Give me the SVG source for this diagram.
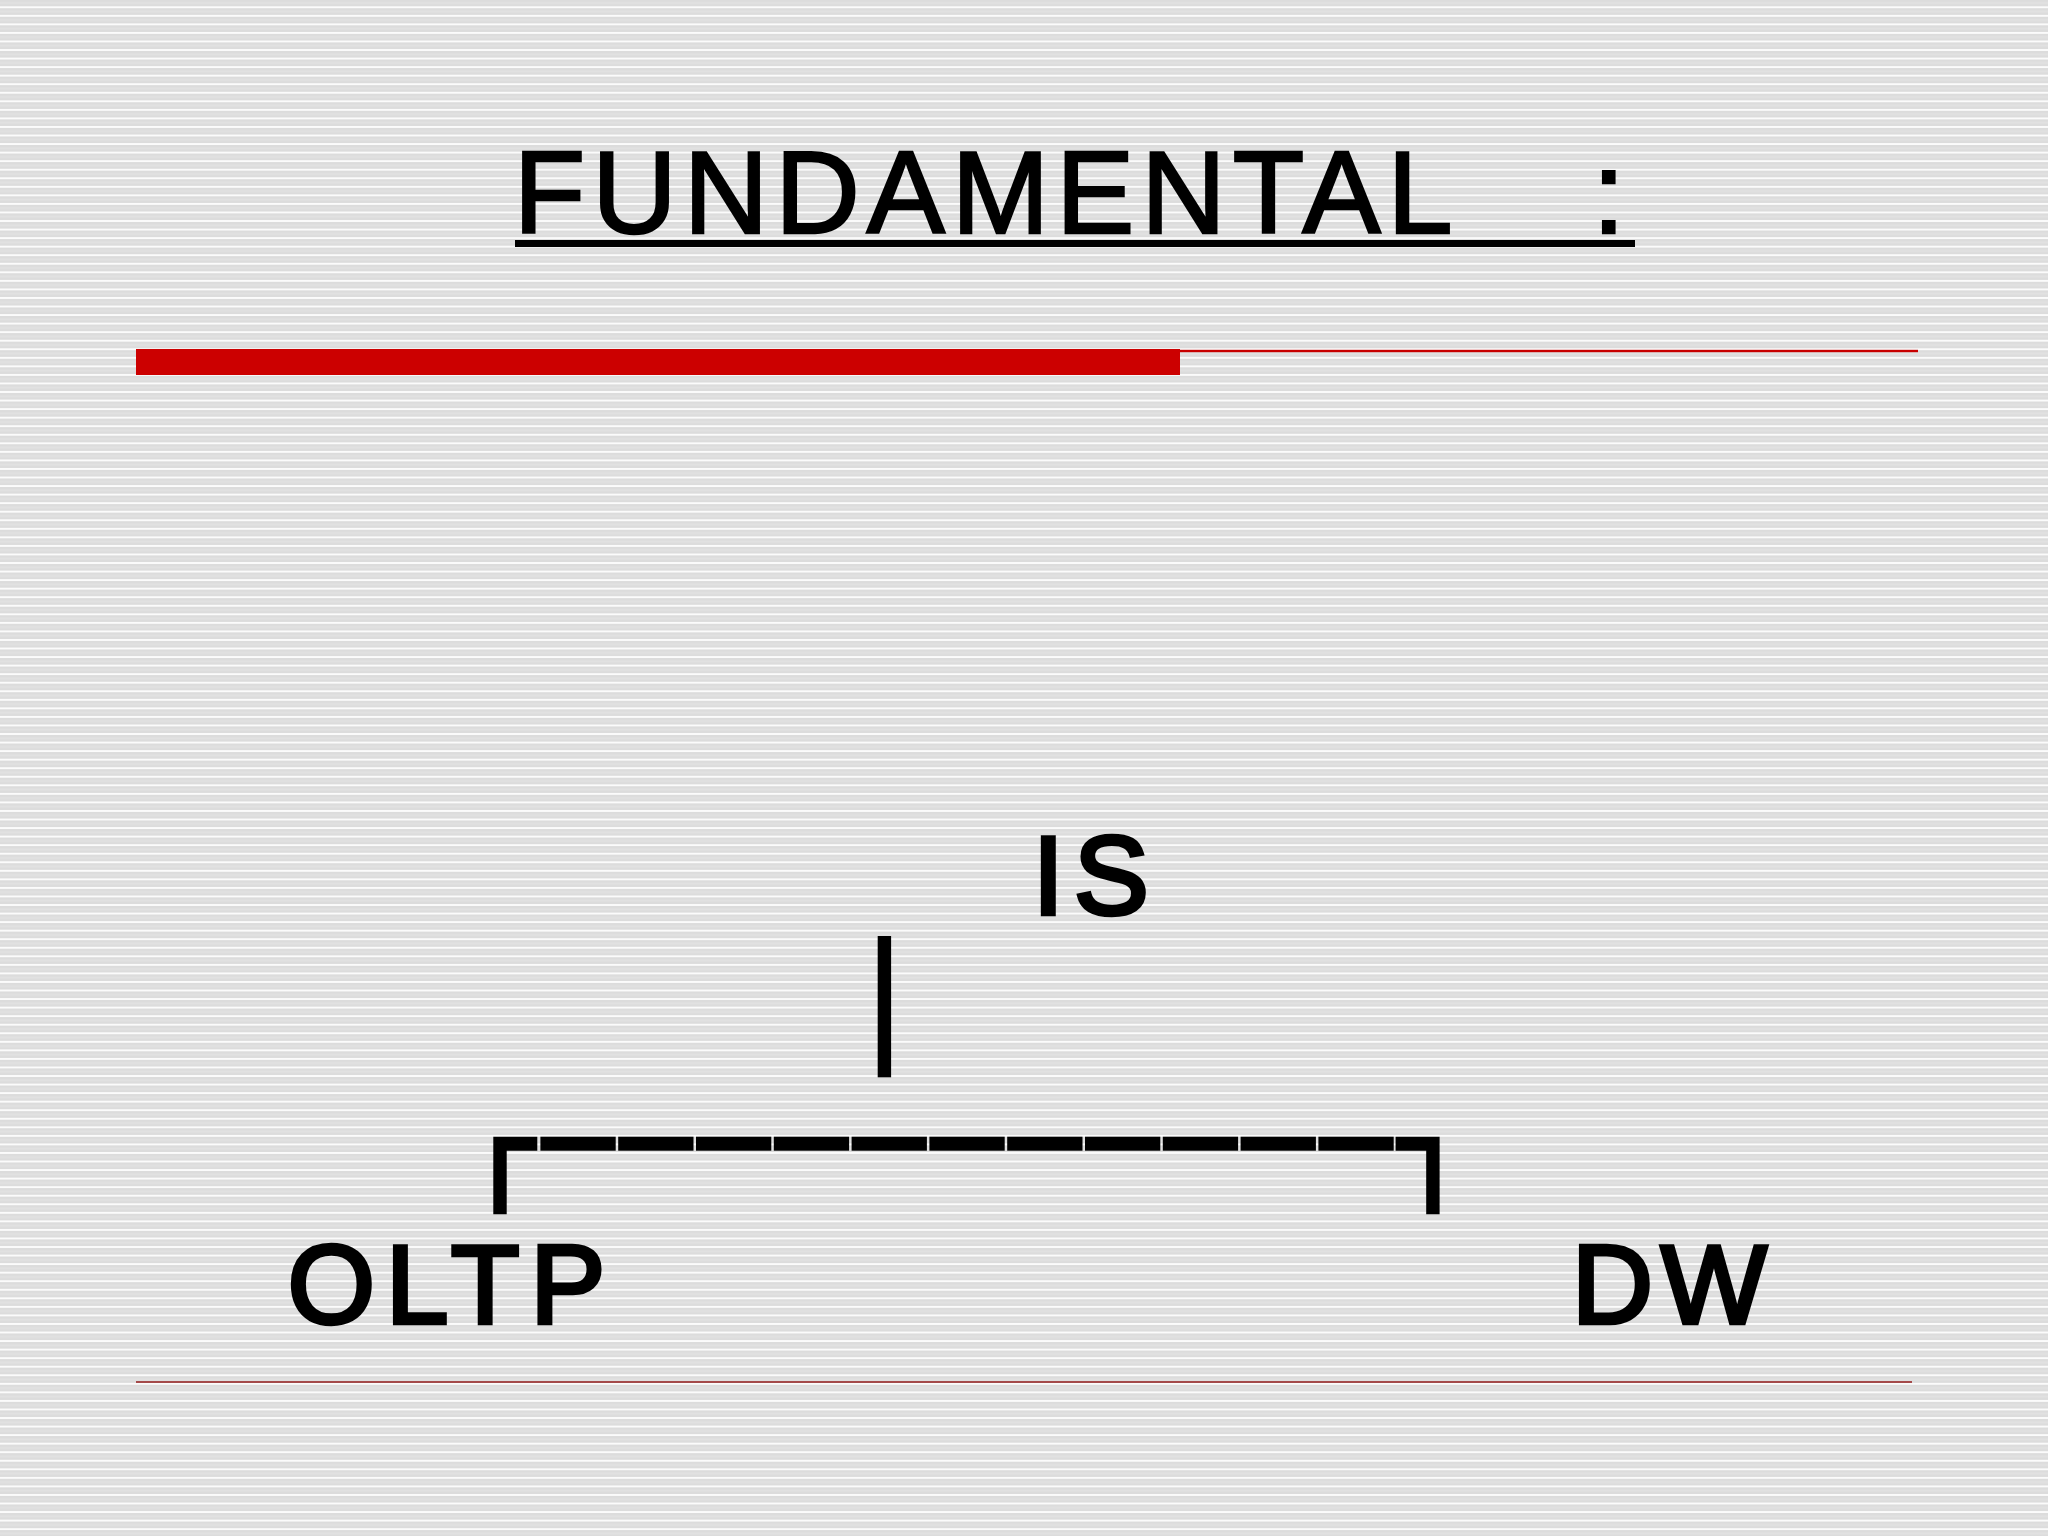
<svg xmlns="http://www.w3.org/2000/svg" width="2048" height="1536" viewBox="0 0 2048 1536">
  <defs>
    <pattern id="stripes" patternUnits="userSpaceOnUse" x="0" y="6.3" width="2048" height="8.55">
      <rect x="0" y="0" width="2048" height="8.55" fill="#dcdcdc"/>
      <rect x="0" y="4.2" width="2048" height="2.2" fill="#e1e1e1"/>
      <rect x="0" y="0" width="2048" height="1.9" fill="#fbfbfb"/>
    </pattern>
    <style>
      .lbl { font-family: "Liberation Sans", Arial, sans-serif; font-size: 112px; fill: #000; stroke: #000; stroke-width: 4.5; stroke-linejoin: miter; }
      .title { font-family: "Liberation Sans", Arial, sans-serif; font-size: 117px; letter-spacing: 7px; fill: #000; stroke: #000; stroke-width: 2.5; }
      .ink { fill: #000; }
    </style>
  </defs>

  <rect x="0" y="0" width="2048" height="1536" fill="url(#stripes)"/>

  <g id="title">
    <text class="title" x="513.7" y="232.8">FUNDAMENTAL<tspan x="1592.6">:</tspan></text>
    <rect class="ink" x="515" y="240" width="1120" height="7"/>
  </g>

  <g id="rules">
    <rect x="136" y="349" width="1044" height="26" fill="#cc0000"/>
    <rect x="1180" y="349.8" width="738" height="2.4" fill="#c80000"/>
    <rect x="136" y="1381" width="1776" height="2" fill="#a44a4a"/>
  </g>

  <g id="node-is">
    <text class="lbl" x="1032.8" y="913.8" letter-spacing="10.2">IS</text>
  </g>

  <g id="node-oltp">
    <text class="lbl" x="287.8" y="1323" letter-spacing="11.1">OLTP</text>
  </g>

  <g id="node-dw">
    <text class="lbl" x="1571.9" y="1322.8" letter-spacing="8.2">DW</text>
  </g>

  <g id="connectors">
    <rect class="ink" x="877.7" y="936" width="13.4" height="141.3"/>
    <path class="ink" d="M493.3,1136.7 H537.3 V1150.7 H506.7 V1214.3 H493.3 Z"/>
    <path class="ink" d="M1395.6,1136.7 H1439.6 V1214.3 H1426.2 V1150.7 H1395.6 Z"/>
    <g class="ink">
      <rect x="540.4" y="1136.7" width="75.3" height="14"/>
      <rect x="618.2" y="1136.7" width="75.3" height="14"/>
      <rect x="696.0" y="1136.7" width="75.3" height="14"/>
      <rect x="773.8" y="1136.7" width="75.3" height="14"/>
      <rect x="851.6" y="1136.7" width="75.3" height="14"/>
      <rect x="929.4" y="1136.7" width="75.3" height="14"/>
      <rect x="1007.2" y="1136.7" width="75.3" height="14"/>
      <rect x="1085.0" y="1136.7" width="75.3" height="14"/>
      <rect x="1162.8" y="1136.7" width="75.3" height="14"/>
      <rect x="1240.6" y="1136.7" width="75.3" height="14"/>
      <rect x="1318.4" y="1136.7" width="75.3" height="14"/>
    </g>
  </g>
</svg>
